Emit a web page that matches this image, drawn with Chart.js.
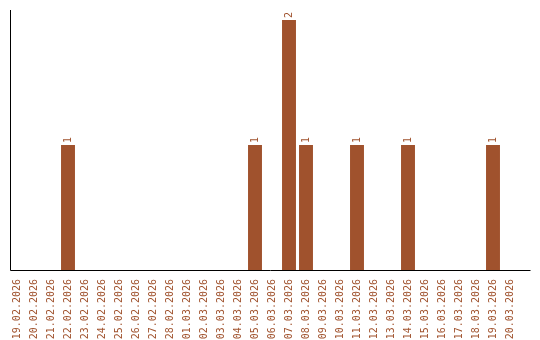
<!DOCTYPE html>
<html>
<head>
<meta charset="utf-8">
<script src="https://cdn.jsdelivr.net/npm/chart.js@4"></script>
<style>
  html, body { margin: 0; padding: 0; background: #fff; }
  #wrap { width: 540px; height: 340px; }
</style>
</head>
<body>
<div id="wrap"><canvas id="chart" width="540" height="340"></canvas></div>
<script>
const days = ['19.02.2026', '20.02.2026', '21.02.2026', '22.02.2026', '23.02.2026', '24.02.2026',
    '25.02.2026', '26.02.2026', '27.02.2026', '28.02.2026', '01.03.2026', '02.03.2026',
    '03.03.2026', '04.03.2026', '05.03.2026', '06.03.2026', '07.03.2026', '08.03.2026',
    '09.03.2026', '10.03.2026', '11.03.2026', '12.03.2026', '13.03.2026', '14.03.2026',
    '15.03.2026', '16.03.2026', '17.03.2026', '18.03.2026', '19.03.2026', '20.03.2026'];
const counts = [0, 0, 0, 1, 0, 0, 0, 0, 0, 0, 0, 0, 0, 0, 1, 0, 2, 1, 0, 0, 1, 0, 0, 1, 0, 0, 0, 0, 1, 0];

const brown = '#a0522d';
const font = { family: "'DejaVu Sans Mono', monospace", size: 10 };

// axis lines + value labels over the bars
const extras = {
    id: 'extras',
    afterDatasetsDraw(chart) {
        const ctx = chart.ctx;
        const area = chart.chartArea;
        ctx.save();
        ctx.strokeStyle = '#000';
        ctx.lineWidth = 1;
        ctx.beginPath();
        ctx.moveTo(area.left + 2, area.top);
        ctx.lineTo(area.left + 2, area.bottom + 0.5);
        ctx.lineTo(area.right + 12, area.bottom + 0.5);
        ctx.stroke();

        ctx.fillStyle = brown;
        ctx.font = font.size + 'px ' + font.family;
        ctx.textAlign = 'left';
        ctx.textBaseline = 'middle';
        chart.getDatasetMeta(0).data.forEach((bar, i) => {
            if (!counts[i]) return;
            ctx.save();
            ctx.translate(bar.x, bar.y - 2);
            ctx.rotate(-Math.PI / 2);
            ctx.fillText(String(counts[i]), 0, 0);
            ctx.restore();
        });
        ctx.restore();
    }
};

new Chart(document.getElementById('chart'), {
    type: 'bar',
    data: {
        labels: days,
        datasets: [{
            data: counts,
            backgroundColor: brown,
            borderWidth: 0,
            barPercentage: 0.82,
            categoryPercentage: 1
        }]
    },
    options: {
        responsive: false,
        animation: false,
        layout: { padding: { left: 8.5, right: 21.5, top: 10, bottom: 0 } },
        plugins: { legend: { display: false }, tooltip: { enabled: false } },
        scales: {
            x: {
                grid: { display: false },
                border: { display: false },
                afterFit(scale) { scale.height = 70; },
                ticks: {
                    color: brown,
                    font: font,
                    minRotation: 90,
                    maxRotation: 90,
                    autoSkip: false,
                    padding: 1
                }
            },
            y: {
                display: false,
                min: 0,
                max: 2.08
            }
        }
    },
    plugins: [extras]
});
</script>
</body>
</html>
